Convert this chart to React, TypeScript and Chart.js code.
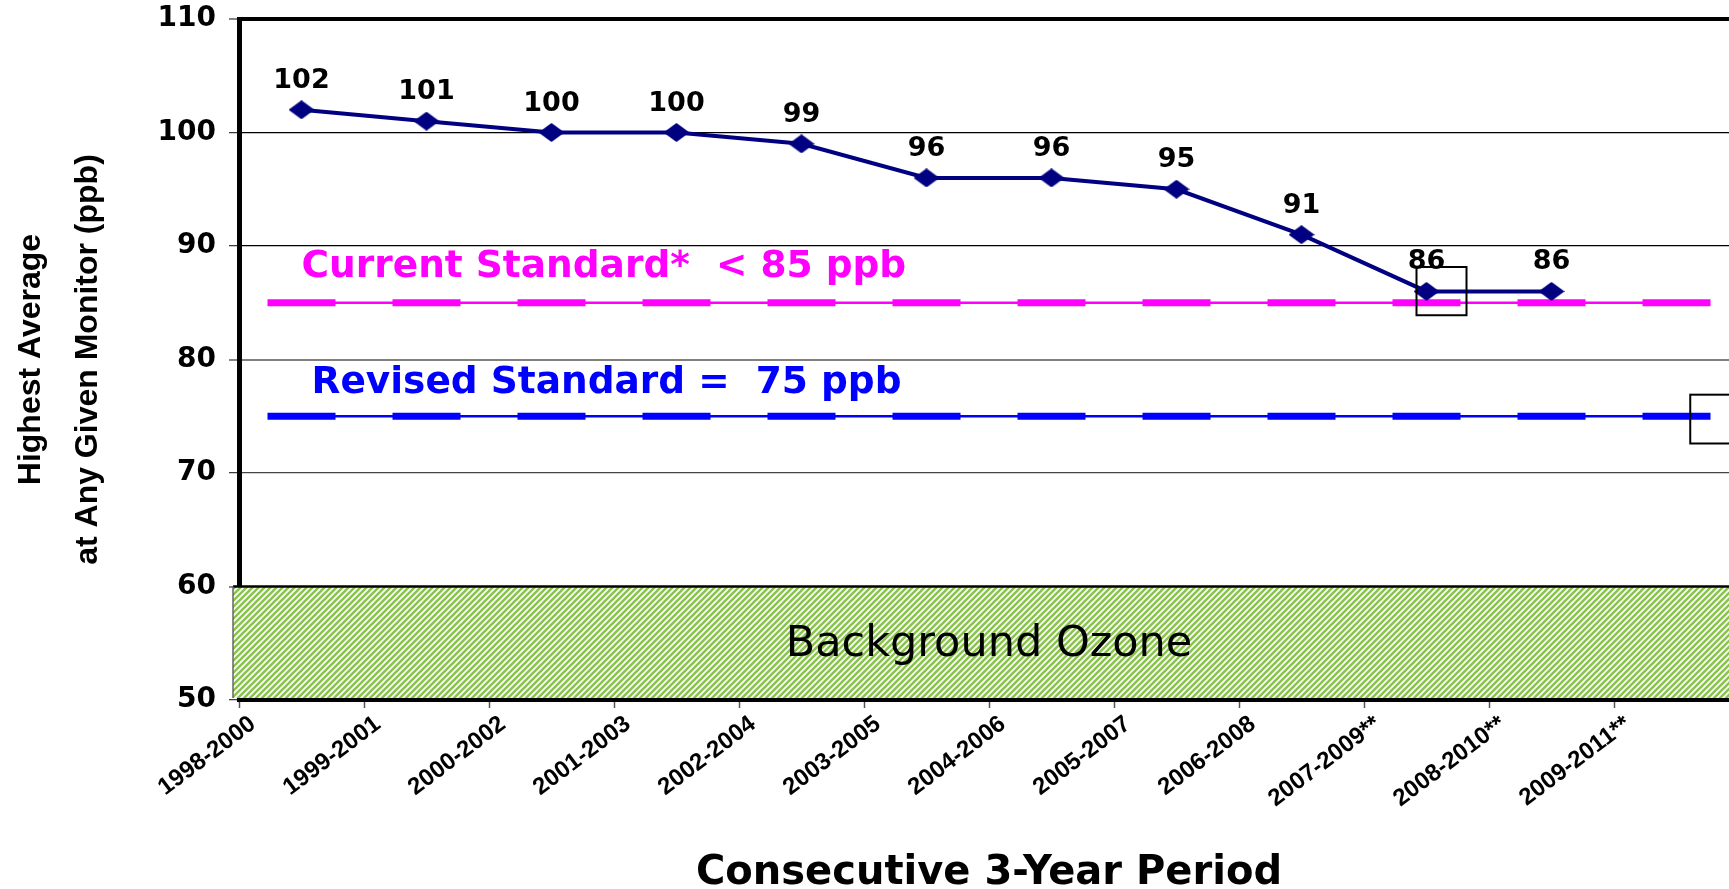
import React, { useEffect, useRef } from 'react';
import { Chart, registerables } from 'chart.js';

Chart.register(...registerables);

const periods = [
  '1998-2000', '1999-2001', '2000-2002', '2001-2003', '2002-2004', '2003-2005',
  '2004-2006', '2005-2007', '2006-2008', '2007-2009**', '2008-2010**', '2009-2011**',
];
const ozoneValues = [102, 101, 100, 100, 99, 96, 96, 95, 91, 86, 86];
const currentStandard = 85;
const revisedStandard = 75;
const backgroundRange = [50, 60];
const yMin = 50;
const yMax = 110;
const yStep = 10;
const currentLabel = 'Current Standard*  < 85 ppb';
const revisedLabel = 'Revised Standard =  75 ppb';
const backgroundLabel = 'Background Ozone';
const yTitle = ['Highest Average', 'at Any Given Monitor (ppb)'];
const xTitle = 'Consecutive 3-Year Period';

const NAVY = '#000080';
const MAGENTA = '#FF00FF';
const BLUE = '#0000FF';
const GREEN = '#8cc350';

function makePattern(): CanvasPattern | string {
  const s = 6;
  const tile = document.createElement('canvas');
  tile.width = s;
  tile.height = s;
  const c = tile.getContext('2d');
  if (!c) return GREEN;
  c.fillStyle = '#ffffff';
  c.fillRect(0, 0, s, s);
  c.strokeStyle = GREEN;
  c.lineWidth = 2.6;
  c.beginPath();
  c.moveTo(-1, s + 1);
  c.lineTo(s + 1, -1);
  c.moveTo(-1, 1);
  c.lineTo(1, -1);
  c.moveTo(s - 1, s + 1);
  c.lineTo(s + 1, s - 1);
  c.stroke();
  const p = c.createPattern(tile, 'repeat');
  return p || GREEN;
}

function makeDiamond(): HTMLCanvasElement {
  const w = 26;
  const h = 19;
  const cv = document.createElement('canvas');
  cv.width = w;
  cv.height = h;
  const c = cv.getContext('2d');
  if (c) {
    c.fillStyle = NAVY;
    c.beginPath();
    c.moveTo(w / 2, 0);
    c.lineTo(w, h / 2);
    c.lineTo(w / 2, h);
    c.lineTo(0, h / 2);
    c.closePath();
    c.fill();
  }
  return cv;
}

export default function App() {
  const ref = useRef<HTMLCanvasElement | null>(null);

  useEffect(() => {
    if (!ref.current) return;
    const pattern = makePattern();
    const diamond = makeDiamond();

    const decor = {
      id: 'decor',
      beforeDatasetsDraw(chart: any) {
        const { ctx, chartArea, scales } = chart;
        const x = scales.x;
        const y = scales.y;
        const top = y.getPixelForValue(backgroundRange[1]);
        const bottom = y.getPixelForValue(backgroundRange[0]) - 2;
        const left = chartArea.left - 6;
        const right = chartArea.right;
        ctx.save();
        ctx.fillStyle = pattern;
        ctx.fillRect(left, top, right - left, bottom - top);
        ctx.strokeStyle = '#000';
        ctx.lineWidth = 2.5;
        ctx.beginPath();
        ctx.moveTo(left, top);
        ctx.lineTo(right, top);
        ctx.stroke();
        ctx.strokeStyle = '#666';
        ctx.lineWidth = 1.5;
        ctx.beginPath();
        ctx.moveTo(left, top);
        ctx.lineTo(left, bottom);
        ctx.stroke();
        ctx.fillStyle = '#000';
        ctx.font = '43px "DejaVu Sans"';
        ctx.textAlign = 'center';
        ctx.textBaseline = 'middle';
        ctx.fillText(
          backgroundLabel,
          x.getPixelForValue(periods.length / 2),
          y.getPixelForValue((backgroundRange[0] + backgroundRange[1]) / 2 - 0.1)
        );
        ctx.restore();
      },
      afterDatasetsDraw(chart: any) {
        const { ctx, scales } = chart;
        const x = scales.x;
        const y = scales.y;
        ctx.save();
        const meta = chart.getDatasetMeta(0);
        ctx.font = 'bold 27px "DejaVu Sans"';
        ctx.fillStyle = '#000';
        ctx.textAlign = 'center';
        ctx.textBaseline = 'middle';
        meta.data.forEach((pt: any, i: number) => {
          ctx.fillText(String(ozoneValues[i]), pt.x, pt.y - 29);
        });
        ctx.font = 'bold 37.5px "DejaVu Sans"';
        ctx.textAlign = 'left';
        ctx.fillStyle = MAGENTA;
        ctx.fillText(currentLabel, x.getPixelForValue(0.5), y.getPixelForValue(88.1));
        ctx.fillStyle = BLUE;
        ctx.fillText(revisedLabel, x.getPixelForValue(0.58), y.getPixelForValue(77.9));
        ctx.strokeStyle = '#000';
        ctx.lineWidth = 2;
        const box = (x0: number, x1: number, y0: number, y1: number) => {
          const px0 = x.getPixelForValue(x0);
          const px1 = x.getPixelForValue(x1);
          const py0 = y.getPixelForValue(y0);
          const py1 = y.getPixelForValue(y1);
          ctx.strokeRect(px0, py0, px1 - px0, py1 - py0);
        };
        box(9.42, 9.82, 88.15, 83.9);
        box(11.61, 12.3, 76.9, 72.6);
        ctx.restore();
      },
    };

    const chart = new Chart(ref.current, {
      type: 'line',
      data: {
        datasets: [
          {
            label: 'Ozone',
            data: ozoneValues.map((v, i) => ({ x: i + 0.5, y: v })),
            borderColor: NAVY,
            backgroundColor: NAVY,
            borderWidth: 4,
            pointStyle: diamond,
            pointRadius: 10,
            order: 0,
          },
          {
            label: 'Current',
            data: periods.map((_, i) => ({ x: i + 0.5, y: currentStandard })),
            borderColor: MAGENTA,
            borderWidth: 2.5,
            pointStyle: 'line',
            pointRadius: 34,
            pointBorderWidth: 7,
            pointBorderColor: MAGENTA,
            pointBackgroundColor: MAGENTA,
            order: 1,
          },
          {
            label: 'Revised',
            data: periods.map((_, i) => ({ x: i + 0.5, y: revisedStandard })),
            borderColor: BLUE,
            borderWidth: 2.5,
            pointStyle: 'line',
            pointRadius: 34,
            pointBorderWidth: 7,
            pointBorderColor: BLUE,
            pointBackgroundColor: BLUE,
            order: 2,
          },
        ],
      },
      options: {
        animation: false,
        responsive: false,
        events: [],
        layout: { autoPadding: false, padding: { left: 0, top: 19, right: 21, bottom: 0 } },
        plugins: {
          legend: { display: false },
          tooltip: { enabled: false },
        },
        scales: {
          x: {
            type: 'linear',
            min: 0,
            max: periods.length,
            afterBuildTicks: (s: any) => {
              s.ticks = periods.map((_, i) => ({ value: i }));
            },
            afterFit: (s: any) => {
              s.height = 189;
              s.paddingLeft = 0;
              s.paddingRight = 0;
              s.paddingTop = 0;
              s.paddingBottom = 0;
            },
            grid: {
              drawOnChartArea: false,
              drawTicks: true,
              tickLength: 8,
              tickColor: '#555',
              tickWidth: 1.5,
            },
            border: { display: true, color: '#000', width: 4 },
            ticks: {
              autoSkip: false,
              minRotation: 37,
              maxRotation: 37,
              padding: 2,
              labelOffset: 14,
              color: '#000',
              font: { family: '"Liberation Sans", Arial', size: 24, weight: 'bold' },
              callback: (v: any) => periods[Math.round(Number(v))] ?? '',
            },
            title: {
              display: true,
              text: xTitle,
              color: '#000',
              font: { family: '"DejaVu Sans"', size: 40, weight: 'bold', lineHeight: 0.75 },
              padding: { top: 0, bottom: 0 },
            },
          },
          y: {
            min: yMin,
            max: yMax,
            afterFit: (s: any) => {
              s.width = 239;
              s.paddingTop = 0;
              s.paddingBottom = 0;
              s.paddingLeft = 0;
              s.paddingRight = 0;
            },
            grid: {
              drawTicks: true,
              tickLength: 10,
              tickColor: '#333',
              tickWidth: 1.2,
              color: (c: any) => {
                const v = c.tick && c.tick.value;
                if (v === 80) return '#808080';
                if (v === 70) return '#444444';
                return '#000000';
              },
              lineWidth: (c: any) => {
                const v = c.tick && c.tick.value;
                if (v === yMax) return 4;
                if (v === 80) return 2;
                if (v === 60) return 2;
                return 1.3;
              },
            },
            border: { display: true, color: '#000', width: 5 },
            ticks: {
              stepSize: yStep,
              padding: 13,
              color: '#000',
              font: { family: '"DejaVu Sans"', size: 28, weight: 'bold' },
            },
            title: {
              display: true,
              text: yTitle,
              color: '#000',
              font: { family: '"Liberation Sans", Arial', size: 32, weight: 'bold', lineHeight: 1.78 },
              padding: { top: 3, bottom: 0 },
            },
          },
        },
      },
      plugins: [decor],
    } as any);

    return () => chart.destroy();
  }, []);

  return (
    <div
      style={{
        position: 'fixed',
        left: 0,
        top: 0,
        width: 1729,
        height: 889,
        overflow: 'hidden',
        background: '#fff',
      }}
    >
      <canvas ref={ref} width={1760} height={889} style={{ display: 'block', width: 1760, height: 889 }} />
    </div>
  );
}
